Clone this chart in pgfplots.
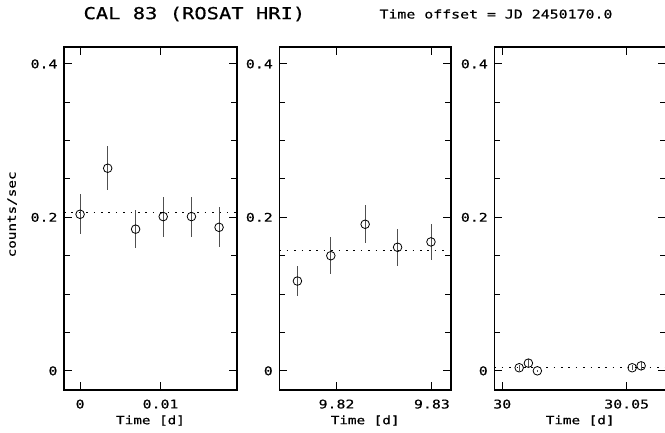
\documentclass[border=0pt]{standalone}
\usepackage{fontspec}
\usepackage{pgfplots}
\pgfplotsset{compat=1.18}
\newfontfamily\pg[FakeStretch=1.24, FakeBold=0.5]{DejaVu Sans Mono}
\setmainfont{DejaVu Sans Mono}[FakeStretch=1.24, FakeBold=0.5]
\definecolor{errgray}{RGB}{80,80,80}
\pgfplotsset{
  panel/.style={
    scale only axis, height=343pt,
    ymin=-0.025, ymax=0.422,
    ytick={0,0.2,0.4}, yticklabels={0,0.2,0.4},
    minor ytick={0.05,0.1,0.15,0.25,0.3,0.35},
    tick align=inside,
    major tick length=8pt, minor tick length=6pt,
    every tick/.style={black, line width=1pt},
    axis line style={black, line width=1.3pt},
    scaled x ticks=false,
    /pgf/number format/assume math mode=true,
    ticklabel style={font=\pg\fontsize{12}{12}\selectfont},
    xticklabel style={yshift=-6pt},
    yticklabel style={xshift=-3pt},
    xlabel={Time [d]},
    xlabel style={font=\pg\fontsize{11.5}{11.5}\selectfont, yshift=0pt},
    clip=false,
  },
  pts/.style={only marks, mark=o, mark size=4.3pt, black,
    mark options={line width=0.8pt, black},
    error bars/.cd, y dir=both, y explicit, error mark=none,
    error bar style={errgray, line width=0.9pt}},
  meanline/.style={black, line width=0.9pt, dash pattern=on 1.6pt off 5.8pt},
}
\begin{document}
\begin{tikzpicture}
\useasboundingbox (0,0) rectangle (665pt,432pt);
\node[font=\pg\fontsize{16.5}{16.5}\selectfont, anchor=west] at (80pt,418pt) {CAL 83 (ROSAT HRI)};
\node[font=\pg\fontsize{12}{12}\selectfont, anchor=west] at (376pt,418pt) {Time offset = JD 2450170.0};

% Panel 1
\begin{axis}[panel, at={(64pt,42pt)}, anchor=south west, width=173pt,
  xmin=-0.002, xmax=0.0195, xtick={0,0.01}, xticklabels={0,0.01},
  ylabel={counts/sec},
  ylabel style={font=\pg\fontsize{11.5}{11.5}\selectfont, at={(axis description cs:-0.30,0.512)}, anchor=center}]
\addplot[meanline] coordinates {(-0.002,0.206) (0.0195,0.206)};
\addplot[pts] table[x=x, y=y, y error=e] {
x y e
0.0000 0.204 0.026
0.00343 0.264 0.029
0.0069 0.1846 0.025
0.01033 0.201 0.026
0.01384 0.201 0.026
0.01727 0.187 0.026
};
\end{axis}

% Panel 2
\begin{axis}[panel, at={(279.3pt,42pt)}, anchor=south west, width=171.7pt,
  xmin=9.814, xmax=9.832, xtick={9.82,9.83}, xticklabels={9.82,9.83}]
\addplot[meanline] coordinates {(9.814,0.157) (9.832,0.157)};
\addplot[pts] table[x=x, y=y, y error=e] {
x y e
9.8159 0.117 0.020
9.8194 0.150 0.024
9.8230 0.191 0.025
9.8264 0.161 0.024
9.8299 0.168 0.023
};
\end{axis}

% Panel 3
\begin{axis}[panel, at={(494.3pt,42pt)}, anchor=south west, width=171.7pt,
  xmin=29.9968, xmax=30.0658, xtick={30,30.05}, xticklabels={30,30.05}]
\addplot[meanline] coordinates {(29.9968,0.005) (30.0658,0.005)};
\addplot[pts] table[x=x, y=y, y error=e] {
x y e
30.0068 0.004 0.004
30.0105 0.010 0.005
30.0141 0.000 0.001
30.0522 0.004 0.003
30.0558 0.0065 0.005
};
\end{axis}
\end{tikzpicture}
\end{document}
